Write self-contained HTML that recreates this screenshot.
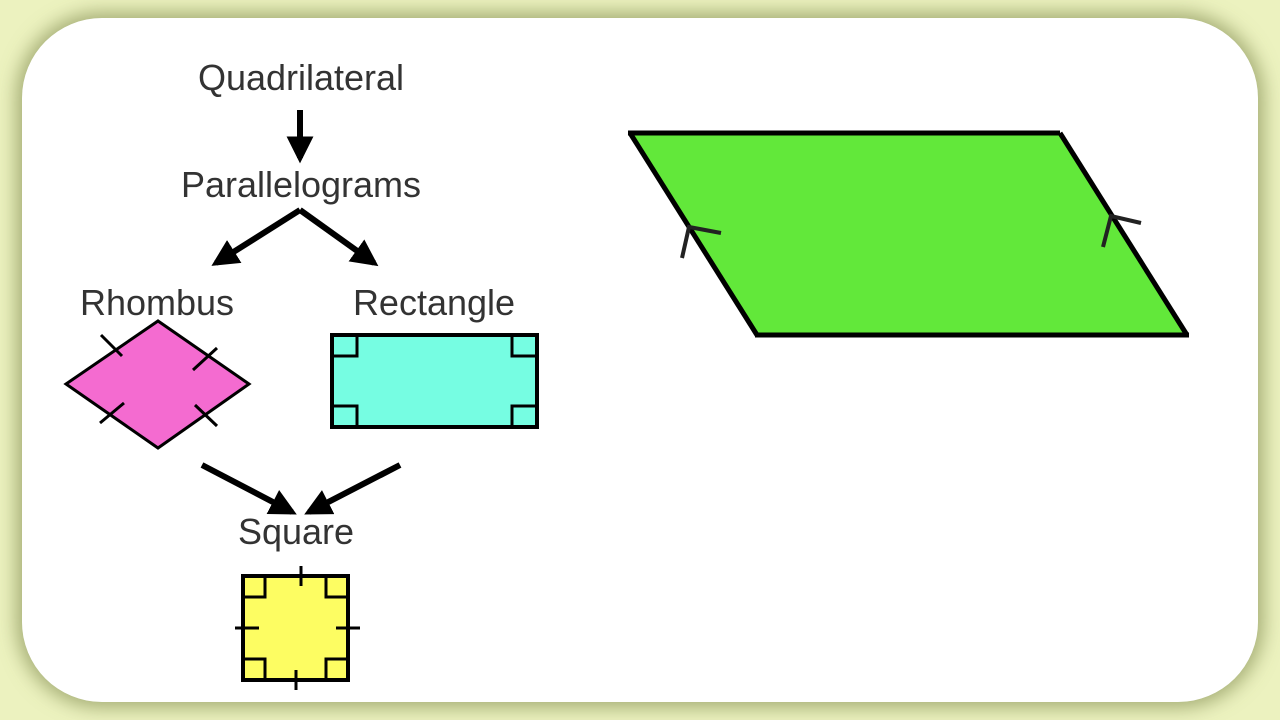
<!DOCTYPE html>
<html><head><style>
html,body{margin:0;padding:0;width:1280px;height:720px;overflow:hidden;background:#ecf2bf;}
.card{position:absolute;left:22px;top:18px;width:1236px;height:684px;background:#fff;border-radius:80px;box-shadow:0 0 18px 6px rgba(110,120,60,0.55);}
svg{position:absolute;left:0;top:0;}
text{font-family:"Liberation Sans",sans-serif;font-size:36px;fill:#333;}
</style></head><body>
<div class="card"></div>
<svg width="1280" height="720" viewBox="0 0 1280 720">
<defs><marker id="ah" viewBox="0 0 10 10" refX="8" refY="5" markerWidth="4.5" markerHeight="4.5" orient="auto"><path d="M0,0L10,5L0,10z" fill="#000"/></marker></defs>
<text x="301" y="90" text-anchor="middle">Quadrilateral</text>
<text x="301" y="197" text-anchor="middle">Parallelograms</text>
<text x="157" y="315" text-anchor="middle">Rhombus</text>
<text x="434" y="315" text-anchor="middle">Rectangle</text>
<text x="296" y="544" text-anchor="middle">Square</text>
<g stroke="#000" stroke-width="6" fill="none" marker-end="url(#ah)">
<line x1="300" y1="110" x2="300" y2="158"/>
<line x1="300" y1="210" x2="216" y2="263"/>
<line x1="300" y1="210" x2="374" y2="263"/>
<line x1="202" y1="465" x2="292" y2="512"/>
<line x1="400" y1="465" x2="309" y2="512"/>
</g>
<polygon points="66,384 158,321 249,384 158,448" fill="#f46bd0" stroke="#000" stroke-width="3"/>
<g stroke="#000" stroke-width="3">
<line x1="101" y1="335" x2="122" y2="356"/><line x1="193" y1="370" x2="217" y2="348"/>
<line x1="100" y1="423" x2="124" y2="403"/><line x1="195" y1="405" x2="217" y2="426"/>
</g>
<rect x="332" y="335" width="205" height="92" fill="#76fde2" stroke="#000" stroke-width="4"/>
<g stroke="#000" stroke-width="3" fill="none">
<path d="M334,356H357V337"/><path d="M535,356H512V337"/><path d="M334,406H357V425"/><path d="M535,406H512V425"/>
</g>
<rect x="243" y="576" width="105" height="104" fill="#fdfd62" stroke="#000" stroke-width="4"/>
<g stroke="#000" stroke-width="3" fill="none">
<path d="M245,597H265V578"/><path d="M346,597H326V578"/><path d="M245,659H265V678"/><path d="M346,659H326V678"/>
<line x1="301" y1="566" x2="301" y2="586"/><line x1="296" y1="670" x2="296" y2="690"/>
<line x1="235" y1="628" x2="259" y2="628"/><line x1="336" y1="628" x2="360" y2="628"/>
</g>
<polygon points="630,133 1060,133 1187,335 757,335" fill="#62e83a"/>
<g stroke="#000" stroke-width="5" fill="none">
<polyline points="757,335 630,133"/>
<line x1="628" y1="133" x2="1060" y2="133"/>
<line x1="1060" y1="133" x2="1187" y2="335"/>
<line x1="755" y1="335" x2="1189" y2="335"/>
</g>
<g stroke="#222" stroke-width="4" fill="none">
<polyline points="682,258 689,227 721,233"/>
<polyline points="1103,247 1111,216 1141,223"/>
</g>
</svg>
</body></html>
